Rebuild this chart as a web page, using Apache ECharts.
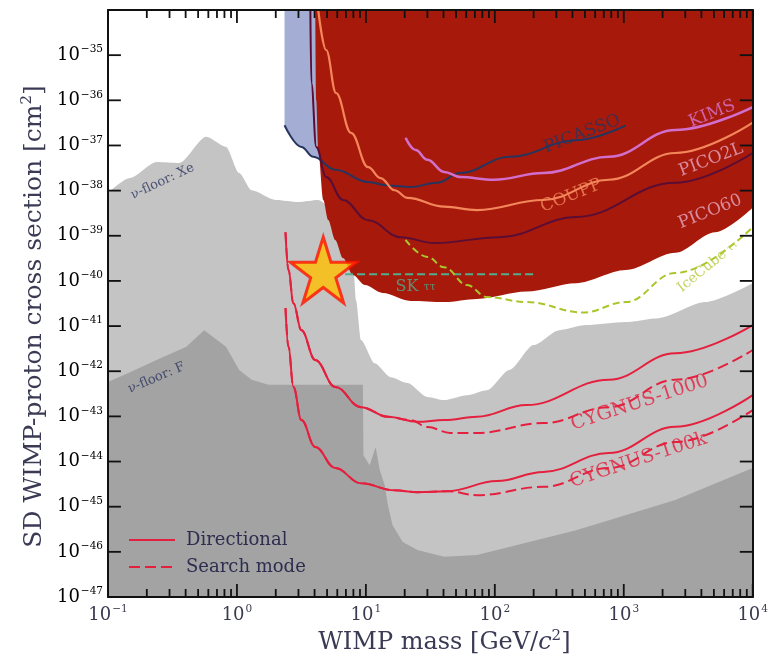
<!DOCTYPE html>
<html>
<head>
<meta charset="utf-8">
<script src="https://cdn.jsdelivr.net/npm/echarts@6/dist/echarts.min.js"></script>
<style>
  html, body { margin: 0; padding: 0; background: #ffffff; }
  #chart { width: 771px; height: 660px; }
</style>
</head>
<body>
<div id="chart"></div>
<script>
// Spin-dependent WIMP-proton limits and projections.
// Every curve is a list of [WIMP mass (GeV/c^2), cross section (cm^2)].

// neutrino floor for a xenon target
const nuFloorXe = [
  [0.1, 8.9e-39], [0.148, 1.9e-38], [0.238, 4.3e-38], [0.358, 4.1e-38], [0.578, 1.55e-37],
  [0.823, 9.3e-38], [1.04, 2.45e-38], [1.30, 1.02e-38], [2.0, 6.2e-39], [3.0, 5.6e-39],
  [4.27, 6.2e-39], [6.09, 2.9e-39], [7.94, 2.9e-40], [8.38, 3.8e-41], [9.16, 4.9e-42],
  [11.7, 1.5e-42], [15.6, 7.4e-43], [21.0, 5.5e-43], [30.0, 2.7e-43], [40.5, 2.3e-43],
  [60.9, 2.95e-43], [86.8, 3.8e-43], [130, 1.07e-42], [200, 3.8e-42], [316, 8.1e-42],
  [510, 1.05e-41], [1036, 1.23e-41], [1858, 1.5e-41], [4276, 3.4e-41], [10000, 8.9e-41]
];

// neutrino floor for a fluorine target
const nuFloorF = [
  [0.1, 5.8e-43], [0.148, 9.5e-43], [0.238, 1.78e-42], [0.405, 3.5e-42], [0.557, 8.1e-42],
  [0.823, 3.5e-42], [1.04, 1.07e-42], [1.30, 6.5e-43], [1.76, 5.0e-43], [9.48, 5.0e-43],
  [9.57, 1.38e-44], [10.7, 8.3e-45], [11.9, 2.1e-44], [12.8, 6.5e-45], [14.0, 3.0e-45],
  [14.8, 1.1e-45], [16.1, 3.9e-46], [19.3, 1.66e-46], [25.1, 1.1e-46], [40.5, 7.8e-47],
  [72.7, 8.5e-47], [427, 3.0e-46], [2512, 1.4e-45], [10000, 7.2e-45]
];

// existing limits
const picasso = [
  [2.34, 2.8e-37], [3.16, 9.3e-38], [3.91, 5.6e-38], [5.78, 2.9e-38], [10.4, 1.55e-38],
  [14.8, 1.3e-38], [22.2, 1.2e-38], [35.8, 1.5e-38], [53.8, 2.45e-38], [130, 5.6e-38],
  [427, 1.3e-37], [1036, 2.8e-37]
];
const pico60 = [
  [4.05, 1e-34], [4.12, 1.02e-36], [4.27, 7.9e-38], [4.67, 6.2e-39], [5.10, 2.24e-39],
  [5.78, 8.1e-40], [6.65, 3.2e-40], [7.94, 1.35e-40], [9.82, 8.1e-41], [13.5, 5.4e-41],
  [22.2, 3.6e-41], [40.5, 3.4e-41], [72.7, 4.0e-41], [176, 5.8e-41], [427, 8.9e-41],
  [1036, 1.74e-40], [2512, 4.2e-40], [5100, 1.2e-39], [10000, 4.2e-39]
];
const pico2L = [
  [3.71, 1e-34], [3.78, 2.4e-36], [4.12, 9.3e-38], [4.92, 2.0e-38], [6.65, 6.2e-39],
  [10.4, 2.2e-39], [18.6, 9.3e-40], [34, 6.9e-40], [109, 9.3e-40], [427, 2.6e-39],
  [2512, 1.5e-38], [10000, 6.8e-38]
];
const coupp = [
  [4.27, 1e-34], [4.92, 1.3e-35], [5.87, 1.45e-36], [7.67, 1.9e-37], [10.4, 3.3e-38],
  [13.0, 1.9e-38], [16.7, 1.02e-38], [21.0, 6.9e-39], [40.5, 4.4e-39], [72.7, 3.7e-39],
  [238, 6.2e-39], [767, 1.74e-38], [2512, 6.8e-38], [10000, 3.2e-37]
];
const kims = [
  [20.3, 1.48e-37], [24.3, 7.9e-38], [30.0, 4.8e-38], [40.5, 2.6e-38], [53.8, 2.0e-38],
  [98.2, 1.74e-38], [238, 2.45e-38], [767, 5.6e-38], [2512, 2.2e-37], [10000, 7.1e-37]
];
const superK = [[6.9, 1.4e-40], [210, 1.4e-40]];
const iceCube = [
  [20.3, 8.1e-40], [30.0, 3.4e-40], [40.5, 2.0e-40], [60.9, 8.1e-41], [86.8, 4.4e-41],
  [176, 3.4e-41], [484, 2.0e-41], [1036, 3.4e-41], [2512, 1.5e-40], [10000, 1.55e-39]
];

// CYGNUS projections
const cygnus1000Dir = [
  [2.38, 1.2e-39], [2.51, 1.74e-40], [2.74, 3.2e-41], [3.16, 8.1e-42], [4.05, 1.78e-42],
  [5.78, 4.5e-43], [9.16, 1.6e-43], [14.8, 9.8e-44], [25.1, 7.6e-44], [40.5, 8.3e-44],
  [72.7, 9.8e-44], [176, 1.78e-43], [767, 6.5e-43], [2512, 2.5e-42], [10000, 1.05e-41]
];
const cygnus1000Search = [
  [2.38, 1.2e-39], [2.51, 1.74e-40], [2.74, 3.2e-41], [3.16, 8.1e-42], [4.05, 1.78e-42],
  [5.78, 4.5e-43], [9.16, 1.6e-43], [14.8, 9.8e-44], [22.2, 8.3e-44], [30.0, 5.8e-44],
  [45.1, 4.3e-44], [72.7, 4.3e-44], [238, 7.1e-44], [767, 1.6e-43], [2512, 6.5e-43],
  [10000, 2.95e-42]
];
const cygnus100kDir = [
  [2.38, 2.5e-41], [2.51, 3.5e-42], [2.74, 4.5e-43], [3.16, 8.3e-44], [4.05, 2.1e-44],
  [5.78, 7.2e-45], [9.16, 3.3e-45], [16.7, 2.3e-45], [25.1, 2.1e-45], [42.8, 2.2e-45],
  [104, 3.7e-45], [238, 5.9e-45], [767, 1.55e-44], [2512, 5.9e-44], [10000, 2.95e-43]
];
const cygnus100kSearch = [
  [2.38, 2.5e-41], [2.51, 3.5e-42], [2.74, 4.5e-43], [3.16, 8.3e-44], [4.05, 2.1e-44],
  [5.78, 7.2e-45], [9.16, 3.3e-45], [16.7, 2.3e-45], [25.1, 2.1e-45], [42.8, 2.2e-45],
  [72.7, 1.8e-45], [238, 2.75e-45], [767, 7.2e-45], [2512, 2.7e-44], [10000, 1.38e-43]
];

// highlighted signal point
const starPoint = [[4.67, 1.74e-40]];

// axis ranges and ticks
const xRange = [0.1, 10000];
const yRange = [1e-47, 1e-34];
const xMajorTicks = [0.1, 1, 10, 100, 1000, 10000];
const xMinorTicks = [
  0.2, 0.3, 0.4, 0.5, 0.6, 0.7, 0.8, 0.9,
  2, 3, 4, 5, 6, 7, 8, 9,
  20, 30, 40, 50, 60, 70, 80, 90,
  200, 300, 400, 500, 600, 700, 800, 900,
  2000, 3000, 4000, 5000, 6000, 7000, 8000, 9000
];
const yTickExponents = [-47, -46, -45, -44, -43, -42, -41, -40, -39, -38, -37, -36, -35, -34];
const yLabelExponents = [-47, -46, -45, -44, -43, -42, -41, -40, -39, -38, -37, -36, -35];

// The log scale rounds very small numbers to zero, so the cross-section axis
// runs in units of 1e-47 cm^2 and the tick labels add the exponent back.
const SIGMA_UNIT = 1e-47;
const toAxis = s => s / SIGMA_UNIT;
const pts = arr => arr.map(p => [p[0], toAxis(p[1])]);
const yMin = toAxis(yRange[0]);
const yMax = toAxis(yRange[1]);

const SERIF = 'DejaVu Serif';
const AXIS_TEXT = '#3b3b50';
const TITLE_TEXT = '#3a3a55';

// plot frame
const CHART_W = 771, CHART_H = 660;
const GRID = { left: 108, right: 13, top: 10, bottom: 63 };
const X_DECADES = Math.log10(xRange[1] / xRange[0]);
const Y_DECADES = Math.log10(yRange[1] / yRange[0]);
const PX_PER_DECADE_X = (CHART_W - GRID.left - GRID.right) / X_DECADES;
const PX_PER_DECADE_Y = (CHART_H - GRID.top - GRID.bottom) / Y_DECADES;
const MAJOR_TICK_PX = 13, MINOR_TICK_PX = 8;

// curve annotations: text, anchor [mass, cross section], angle, colour, size
const annotations = [
  { text: 'PICASSO', at: [475, 1.8e-37], angle: 21, color: '#27355e', size: 17 },
  { text: 'KIMS', at: [4840, 5.0e-37], angle: 22, color: '#d873cf', size: 17 },
  { text: 'PICO2L', at: [4750, 4.8e-38], angle: 21, color: '#e6a6c2', size: 17 },
  { text: 'COUPP', at: [391, 7.6e-39], angle: 22, color: '#f3875b', size: 17 },
  { text: 'PICO60', at: [4670, 3.4e-39], angle: 22, color: '#e6a6c2', size: 17 },
  { text: '{a|SK }{b|ττ}', at: [24.3, 7.4e-41], angle: 0, color: '#4fae8e', size: 16 },
  { text: '{a|IceCube }{b|ττ}', at: [4510, 2.1e-40], angle: 39, color: '#b5c83a', size: 14 },
  { text: 'CYGNUS-1000', at: [1327, 2.0e-43], angle: 18, color: '#e4203e', size: 19 },
  { text: 'CYGNUS-100k', at: [1300, 1.07e-44], angle: 18, color: '#e4203e', size: 19 },
  { text: 'ν-floor: Xe', at: [0.265, 1.6e-38], angle: 25, color: '#2c3560', size: 13 },
  { text: 'ν-floor: F', at: [0.238, 7.1e-43], angle: 23, color: '#2c3560', size: 13 }
];

function powerText(e) {
  return '{b|10}{e|' + (e < 0 ? '\u2212' : '') + Math.abs(e) + '}';
}
const xLabel = v => powerText(Math.round(Math.log10(v)));

const labelRich = {
  b: { fontFamily: SERIF, fontSize: 18, color: AXIS_TEXT, lineHeight: 22 },
  e: { fontFamily: SERIF, fontSize: 10.5, color: AXIS_TEXT, verticalAlign: 'top', lineHeight: 22, padding: [0, 0, 0, 1] }
};

function baseAxis(extra) {
  return Object.assign({
    type: 'log',
    logBase: 10,
    z: 10,
    splitLine: { show: false },
    minorTick: { show: false },
    axisTick: { show: false },
    axisLine: { show: true, lineStyle: { color: '#111', width: 2 } }
  }, extra);
}

const lineBase = { type: 'line', symbol: 'none', showSymbol: false, silent: true, animation: false };

function curve(name, data, color, width, dash, z, smooth) {
  return Object.assign({}, lineBase, {
    name: name, data: pts(data), z: z,
    smooth: smooth === undefined ? 0.4 : smooth,
    smoothMonotone: 'x',
    lineStyle: { color: color, width: width, type: dash || 'solid' },
    itemStyle: { color: color }
  });
}

function region(data, color, origin, z, smooth) {
  return Object.assign({}, lineBase, {
    data: pts(data), z: z, smooth: smooth, smoothMonotone: 'x',
    lineStyle: { width: 0, color: color },
    itemStyle: { color: color },
    areaStyle: { color: color, opacity: 1, origin: origin }
  });
}

// Inward frame ticks: short segments given in axis units, so the log axes
// place them; lengths follow from the frame's pixels per decade.
const tickSeries = [];
function tickSegment(a, b) {
  tickSeries.push({
    type: 'line', data: [a, b], symbol: 'none', showSymbol: false,
    silent: true, animation: false, clip: false, z: 30, smooth: false,
    lineStyle: { color: '#111111', width: 1.8, type: 'solid' },
    itemStyle: { color: '#111111' }
  });
}
function xTick(v, lenPx) {
  const f = Math.pow(10, lenPx / PX_PER_DECADE_Y);
  tickSegment([v, yMin], [v, yMin * f]);
  tickSegment([v, yMax], [v, yMax / f]);
}
xMajorTicks.forEach(v => xTick(v, MAJOR_TICK_PX));
xMinorTicks.forEach(v => xTick(v, MINOR_TICK_PX));
yTickExponents.forEach(e => {
  const s = toAxis(Math.pow(10, e));
  const f = Math.pow(10, MAJOR_TICK_PX / PX_PER_DECADE_X);
  tickSegment([xRange[0], s], [xRange[0] * f, s]);
  tickSegment([xRange[1], s], [xRange[1] / f, s]);
});

const chart = echarts.init(document.getElementById('chart'), null, { renderer: 'canvas' });

const option = {
  animation: false,
  backgroundColor: '#ffffff',
  textStyle: { fontFamily: SERIF },
  grid: { left: GRID.left, right: GRID.right, top: GRID.top, bottom: GRID.bottom, containLabel: false },
  legend: {
    data: ['Directional', 'Search mode'],
    orient: 'vertical',
    left: 123,
    top: 526,
    itemWidth: 46,
    itemHeight: 14,
    itemGap: 9,
    itemStyle: { opacity: 0 },
    textStyle: { fontFamily: SERIF, fontSize: 18, color: '#2d2d50', padding: [0, 0, 0, 6] },
    selectedMode: false
  },
  xAxis: [
    baseAxis({
      min: xRange[0], max: xRange[1], position: 'bottom', splitNumber: 5,
      name: 'WIMP mass [GeV/{i|c}{s|2}]',
      nameLocation: 'middle', nameGap: 25,
      nameTextStyle: {
        fontFamily: SERIF, fontSize: 24, color: TITLE_TEXT, padding: [0, 0, 0, 28],
        rich: {
          i: { fontFamily: SERIF, fontStyle: 'italic', fontSize: 24, color: TITLE_TEXT },
          s: { fontFamily: SERIF, fontSize: 15, color: TITLE_TEXT, verticalAlign: 'top', lineHeight: 27 }
        }
      },
      axisLabel: { show: true, margin: 7, formatter: xLabel, rich: labelRich }
    }),
    baseAxis({
      min: xRange[0], max: xRange[1], position: 'top', splitNumber: 5,
      axisLabel: { show: false }
    })
  ],
  yAxis: [
    baseAxis({
      min: yMin, max: yMax, position: 'left',
      name: 'SD WIMP-proton cross section [cm{s|2}]',
      nameLocation: 'middle', nameGap: 60, nameRotate: 90,
      nameTextStyle: {
        fontFamily: SERIF, fontSize: 25, color: TITLE_TEXT, padding: [0, 26, 0, 0],
        rich: {
          s: { fontFamily: SERIF, fontSize: 15, color: TITLE_TEXT, verticalAlign: 'top', lineHeight: 28 }
        }
      },
      axisLabel: { show: false }
    }),
    baseAxis({
      min: yMin, max: yMax, position: 'right',
      axisLabel: { show: false }
    })
  ],
  series: [
    region(nuFloorXe, '#c4c4c4', 'start', 1, 0.25),
    region(nuFloorF, '#a3a3a3', 'start', 2, 0),
    region(picasso, '#a4add3', 'end', 3, 0.3),
    region(pico60, '#a71a0b', 'end', 4, 0.3),

    curve('PICASSO', picasso, '#27355e', 2, 'solid', 6),
    curve('PICO2L', pico2L, '#5a0d35', 2, 'solid', 6),
    curve('COUPP', coupp, '#f3875b', 2.2, 'solid', 6),
    curve('KIMS', kims, '#d26fcd', 2.5, 'solid', 6),
    curve('SK', superK, '#4fae8e', 2, [8, 4], 6, 0),
    curve('IceCube', iceCube, '#a9c62a', 2, [7, 4], 6),

    curve('Search mode', cygnus1000Search, '#e4203e', 2, [11, 5], 7),
    curve('Search mode', cygnus100kSearch, '#e4203e', 2, [11, 5], 7),
    curve('Directional', cygnus1000Dir, '#e4203e', 2, 'solid', 8),
    curve('Directional', cygnus100kDir, '#e4203e', 2, 'solid', 8),

    {
      type: 'scatter', data: pts(starPoint), z: 12, silent: true, animation: false,
      symbol: 'path://M50,0 L61.8,35.4 L100,35.4 L69.1,57.3 L80.9,92.7 L50,70.8 L19.1,92.7 L30.9,57.3 L0,35.4 L38.2,35.4 Z',
      symbolSize: 66,
      itemStyle: { color: '#ffbf00', borderColor: '#ff1200', borderWidth: 3 }
    },

    {
      type: 'scatter', z: 11, silent: true, animation: false,
      symbolSize: 0,
      data: annotations.map(a => ({
        value: [a.at[0], toAxis(a.at[1])],
        label: {
          show: true, position: 'inside', rotate: a.angle,
          formatter: a.text,
          fontFamily: SERIF, fontSize: a.size, color: a.color,
          rich: {
            a: { fontFamily: SERIF, fontSize: a.size, color: a.color },
            b: { fontFamily: SERIF, fontSize: a.size * 0.7, color: a.color }
          }
        }
      }))
    }
  ].concat(tickSeries)
};

chart.setOption(option);

// Cross-section tick labels, one per decade, placed by the y axis.
(function drawYLabels() {
  const px = v => chart.convertToPixel({ xAxisIndex: 0 }, v);
  const py = v => chart.convertToPixel({ yAxisIndex: 0 }, v);
  const frameLeft = px(xRange[0]);
  const labels = yLabelExponents.map(e => ({
    type: 'text', silent: true, z: 100,
    x: frameLeft - 5, y: py(toAxis(Math.pow(10, e))),
    style: { text: powerText(e), rich: labelRich, align: 'right', verticalAlign: 'middle', fontFamily: SERIF }
  }));
  chart.setOption({ graphic: { elements: labels } });
})();
</script>
</body>
</html>
